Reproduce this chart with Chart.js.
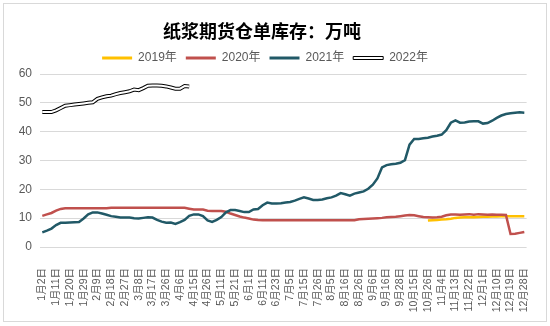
<!DOCTYPE html>
<html>
<head>
<meta charset="utf-8">
<script src="https://cdn.jsdelivr.net/npm/chart.js@4.4.0/dist/chart.umd.min.js"></script>
<style>
  html, body { margin: 0; padding: 0; background: #fff; }
  canvas { display: block; }
</style>
</head>
<body>
<canvas id="chart" width="550" height="326"></canvas>
<script>
const titleText = '纸浆期货仓单库存：万吨';
const seriesNames = ['2019年', '2020年', '2021年', '2022年'];
const tickLabels = ['1月2日','1月11日','1月20日','1月29日','2月9日','2月18日','2月27日','3月8日','3月17日','3月26日',
    '4月6日','4月15日','4月26日','5月11日','5月21日','6月1日','6月11日','6月23日','7月5日','7月15日',
    '7月26日','8月5日','8月16日','8月26日','9月6日','9月16日','9月28日','10月15日','10月26日','11月4日',
    '11月13日','11月22日','12月1日','12月10日','12月19日','12月28日'];
const yTicks = [0, 10, 20, 30, 40, 50, 60];

// 每个标签之间 3 个数据点
const stock2019 = [
    null,null,null,null,null,null,null,null,null,null,
    null,null,null,null,null,null,null,null,null,null,
    null,null,null,null,null,null,null,null,null,null,
    null,null,null,null,null,null,null,null,null,null,
    null,null,null,null,null,null,null,null,null,null,
    null,null,null,null,null,null,null,null,null,null,
    null,null,null,null,null,null,null,null,null,null,
    null,null,null,null,null,null,null,null,null,null,
    null,null,null,null,9.2,9.3,9.4,9.5,9.6,9.8,
    10.1,10.2,10.3,10.3,10.3,10.4,10.5,10.5,10.6,10.6,
    10.7,10.7,10.7,10.7,10.7,10.7
];
const stock2020 = [
    10.8,11.3,11.8,12.6,13.2,13.4,13.4,13.4,13.4,13.4,
    13.4,13.4,13.4,13.4,13.4,13.6,13.6,13.6,13.6,13.6,
    13.6,13.6,13.6,13.6,13.6,13.6,13.6,13.6,13.6,13.6,
    13.6,13.6,13.3,13.0,13.0,13.0,12.6,12.5,12.5,12.5,
    12.2,11.6,11.1,10.6,10.2,9.9,9.5,9.35,9.3,9.3,
    9.3,9.3,9.3,9.3,9.3,9.3,9.3,9.3,9.3,9.3,
    9.3,9.3,9.3,9.3,9.3,9.3,9.3,9.3,9.3,9.6,
    9.7,9.8,9.9,10.0,10.1,10.3,10.4,10.5,10.7,10.9,
    11.1,11.0,10.7,10.4,10.3,10.2,10.3,10.5,11.0,11.3,
    11.3,11.2,11.3,11.4,11.2,11.4,11.3,11.2,11.3,11.2,
    11.2,11.1,4.5,4.6,4.9,5.2
];
const stock2021 = [
    5.1,5.7,6.4,7.6,8.4,8.4,8.5,8.6,8.7,9.9,
    11.3,12.0,12.0,11.6,11.2,10.7,10.5,10.2,10.2,10.2,
    10.0,9.9,10.1,10.3,10.2,9.4,8.8,8.4,8.5,8.0,
    8.6,9.4,10.8,11.3,11.3,10.7,9.2,8.7,9.4,10.4,
    12.0,12.8,12.8,12.5,12.1,12.1,13.0,13.2,14.5,15.4,
    15.1,15.1,15.2,15.4,15.6,16.1,16.7,17.2,16.8,16.3,
    16.3,16.5,16.9,17.2,17.8,18.7,18.3,17.8,18.5,18.9,
    19.3,20.2,21.6,23.8,27.6,28.4,28.7,28.9,29.2,30.1,
    35.5,37.5,37.5,37.7,37.9,38.3,38.6,39.0,40.5,43.1,
    43.9,43.1,43.2,43.5,43.6,43.6,42.8,43.0,43.8,44.8,
    45.6,46.1,46.4,46.6,46.7,46.6
];
const stock2022 = [
    46.8,46.8,46.8,47.4,48.2,49.0,49.2,49.4,49.6,49.8,
    50.0,50.2,51.4,51.9,52.3,52.5,53.0,53.4,53.7,54.0,
    54.6,54.4,55.1,55.9,56.0,56.0,55.9,55.7,55.3,54.9,
    54.9,55.8,55.7
];

const labels = stock2021.map((v, i) => (i % 3 === 0 ? tickLabels[i / 3] : ''));

const gray = '#595959';
const fontFamily = '"Liberation Sans", "Noto Sans CJK SC", sans-serif';

const frame = {
    id: 'frame',
    beforeDraw(chart) {
        const ctx = chart.ctx;
        ctx.save();
        ctx.fillStyle = '#fff';
        ctx.fillRect(0, 0, chart.width, chart.height);
        ctx.strokeStyle = '#d9d9d9';
        ctx.lineWidth = 1;
        ctx.strokeRect(3.5, 3.5, 543, 318);
        ctx.restore();
    },
    afterDraw(chart) {
        const ctx = chart.ctx;
        ctx.save();
        ctx.fillStyle = '#000';
        ctx.font = 'bold 18px "Noto Sans CJK SC", sans-serif';
        ctx.textAlign = 'center';
        ctx.textBaseline = 'middle';
        ctx.fillText(titleText, 262, 31);
        ctx.restore();
    }
};

function line(label, data, color, width, order) {
    return {
        label: label,
        data: data,
        borderColor: color,
        backgroundColor: color,
        borderWidth: width,
        pointRadius: 0,
        tension: 0,
        spanGaps: false,
        order: order
    };
}

const outer2022 = line(seriesNames[3], stock2022, '#000000', 4, 2);
const inner2022 = line('inner', stock2022, '#ffffff', 2, 1);

new Chart(document.getElementById('chart'), {
    type: 'line',
    data: {
        labels: labels,
        datasets: [
            line(seriesNames[0], stock2019, '#FFC000', 2.5, 5),
            line(seriesNames[1], stock2020, '#C0504D', 2.5, 4),
            line(seriesNames[2], stock2021, '#215967', 2.5, 3),
            outer2022,
            inner2022
        ]
    },
    plugins: [frame],
    options: {
        responsive: false,
        animation: false,
        devicePixelRatio: 1,
        layout: { padding: { top: 43, right: 20, left: 0, bottom: 0 } },
        plugins: {
            title: { display: false },
            tooltip: { enabled: false },
            legend: {
                position: 'top',
                labels: {
                    color: gray,
                    font: { family: fontFamily, size: 12 },
                    boxWidth: 30,
                    boxHeight: 3,
                    padding: 9,
                    filter: item => item.text !== 'inner',
                    sort: (a, b) => a.datasetIndex - b.datasetIndex,
                    generateLabels(chart) {
                        const items = Chart.defaults.plugins.legend.labels.generateLabels(chart);
                        items.forEach(item => {
                            if (item.text === seriesNames[3]) {
                                item.fillStyle = '#ffffff';
                                item.strokeStyle = '#000000';
                                item.lineWidth = 1;
                            } else {
                                item.lineWidth = 0;
                            }
                        });
                        return items;
                    }
                }
            }
        },
        scales: {
            x: {
                offset: true,
                grid: { display: false },
                border: { display: false },
                ticks: {
                    autoSkip: false,
                    minRotation: 90,
                    maxRotation: 90,
                    padding: 13,
                    color: gray,
                    font: { family: fontFamily, size: 10.5 }
                },
                afterFit(scale) { scale.height = 79; }
            },
            y: {
                min: 0,
                max: 60,
                afterBuildTicks(scale) { scale.ticks = yTicks.map(v => ({ value: v })); },
                grid: { color: '#d9d9d9', drawTicks: false },
                border: { display: false },
                ticks: {
                    padding: 8,
                    color: gray,
                    font: { family: fontFamily, size: 12 }
                },
                afterFit(scale) { scale.width = 40; }
            }
        }
    }
});
</script>
</body>
</html>
